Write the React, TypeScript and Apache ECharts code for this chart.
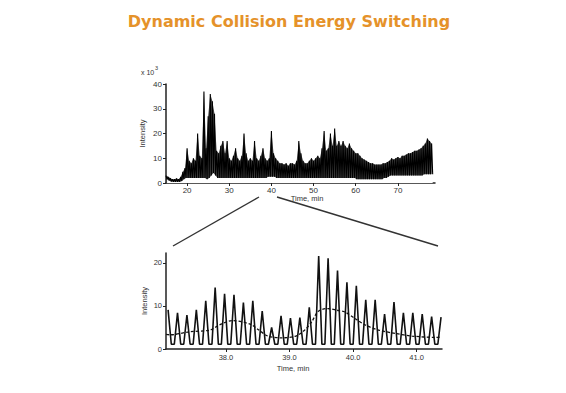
import React, { useEffect, useRef } from 'react';
import * as echarts from 'echarts';

// ---------- Overview chromatogram (x 10^3 counts) ----------
const overviewStart = 15;
const overviewStep = 0.5;
const overviewPeaks = [
  3, 2.5, 2, 1.5, 1.5, 1.8, 1.5, 2.5, 4.5, 6,
  14, 9, 8, 10, 9, 20, 11, 10, 37, 14,
  27, 36, 33, 28, 13, 12, 15, 17, 12, 17,
  10, 9, 11, 14, 10, 9, 11, 20, 12, 9,
  10, 9, 17, 10, 9, 11, 14, 10, 9, 10,
  21, 12, 10, 9, 8, 8, 7.5, 8, 7, 8,
  8, 7.5, 9, 17, 12, 9, 8, 8, 9, 10,
  9, 10, 11, 10, 14, 21, 13, 14, 20, 15,
  22, 15, 17, 15, 17, 15, 14, 16, 14, 13,
  12, 12, 11, 10, 9.5, 9, 8.5, 8, 8, 7.5,
  7.5, 7.5, 7.5, 8, 8, 8.5, 9, 10, 9.5, 10,
  10.5, 10, 11, 11, 11.5, 12, 12, 12.5, 13, 13,
  13.5, 14, 15, 16, 18, 17, 16
];
const overviewTroughs = [
  1.5, 1, 0.6, 0.5, 0.5, 0.5, 0.5, 0.8, 1.5, 2,
  2, 2, 2, 2, 2, 2, 2, 2, 2, 1.5,
  2, 3, 4, 3, 2, 2, 2, 2, 2, 2,
  2, 2, 2, 2, 2, 2, 2, 2, 2, 2,
  2, 2, 2, 2, 2, 2, 2, 2, 2.5, 2.5,
  2.5, 2.5, 2, 2, 2, 2, 2, 2, 2, 2,
  2, 2, 2, 2, 2, 2, 2, 2, 2, 2,
  2, 2, 2, 2, 2, 2, 2, 2, 2, 2,
  2, 2, 2, 2, 2, 2, 2, 2, 2, 2,
  1.5, 1.5, 1.5, 1.5, 1.5, 1.5, 1.5, 1.5, 1.5, 1.5,
  1.5, 1.5, 1.5, 2, 2, 2.5, 3, 3, 3, 3,
  3, 3, 3, 3, 3, 3, 3, 3, 3, 3,
  3, 3, 3.5, 3.5, 3.5, 3.5, 3.5
];
const overviewXTicks = [20, 30, 40, 50, 60, 70];
const overviewYTicks = [0, 10, 20, 30, 40];

// ---------- Zoomed region 37-41.4 min ----------
const zoomStart = 37.09;
const zoomPeriod = 0.1481;
const zoomPeaks = [
  9.1, 8.4, 7.9, 9.1, 11.2, 14.3, 12.8, 12.6, 10.8, 11.2,
  8.8, 5.0, 7.7, 7.2, 7.3, 9.7, 21.6, 21.1, 18.2, 15.5,
  14.7, 11.4, 11.4, 8.1, 10.9, 8.4, 8.4, 8.1, 7.5, 7.4
];
const zoomTroughs = [
  1.1, 1.1, 1.1, 1.1, 1.1, 1.1, 1.1, 1.1, 1.1, 1.1,
  1.1, 1.1, 1.1, 1.1, 1.1, 1.1, 1.1, 1.1, 1.1, 1.1,
  1.1, 1.1, 1.1, 1.1, 1.1, 1.1, 1.1, 1.1, 1.1, 1.1
];
const trendTimes = [
  37.06, 37.12, 37.43, 37.75, 37.9, 38.1, 38.38, 38.5, 38.66, 38.88,
  39.1, 39.24, 39.35, 39.45, 39.6, 39.75, 39.87, 40.03, 40.19, 40.4,
  40.67, 40.93, 41.3, 41.38
];
const trendValues = [
  3.4, 3.3, 4.0, 4.4, 5.6, 6.6, 5.8, 4.6, 3.0, 2.6,
  3.0, 4.4, 6.3, 8.7, 9.4, 9.0, 8.6, 7.1, 5.6, 4.4,
  3.6, 3.0, 2.7, 2.8
];
const zoomXTicks = [38, 39, 40, 41];
const zoomYTicks = [0, 10, 20];

const AXIS = '#222';
const LABEL = '#333';
const FONT = 'Liberation Sans, Arial, sans-serif';

function buildOverview(): number[][] {
  const out: number[][] = [];
  overviewPeaks.forEach((p, i) => {
    const t = overviewStart + i * overviewStep;
    out.push([t, p]);
    out.push([t + overviewStep / 2, overviewTroughs[i]]);
  });
  return out;
}

function buildEnvelope(): number[][] {
  return overviewPeaks.map((p, i) => [overviewStart + i * overviewStep, p]);
}

function buildFloor(): number[][] {
  return overviewTroughs.map((v, i) => [overviewStart + i * overviewStep + overviewStep / 2, v]);
}

function buildZoom(): number[][] {
  const out: number[][] = [];
  zoomPeaks.forEach((p, i) => {
    const t = zoomStart + i * zoomPeriod;
    out.push([t, p]);
    if (i < zoomPeaks.length - 1) {
      out.push([t + zoomPeriod * 0.34, zoomTroughs[i]]);
      out.push([t + zoomPeriod * 0.66, zoomTroughs[i]]);
    }
  });
  return out;
}

export default function App() {
  const ref = useRef<HTMLDivElement>(null);
  useEffect(() => {
    if (!ref.current) return;
    const chart = echarts.init(ref.current, undefined, { renderer: 'svg' });
    const axisCommon = {
      axisLine: { show: true, lineStyle: { color: AXIS, width: 1.5 } },
      splitLine: { show: false },
    };
    chart.setOption({
      animation: false,
      backgroundColor: '#fff',
      grid: [
        { left: 166, top: 84, width: 269, height: 99 },
        { left: 166, top: 253, width: 276, height: 96 },
      ],
      xAxis: [
        {
          gridIndex: 0, type: 'value', min: 15, max: 78.8, ...axisCommon,
          axisTick: { show: true, length: 3, customValues: overviewXTicks, lineStyle: { color: AXIS } },
          axisLabel: { customValues: overviewXTicks, fontSize: 8, color: LABEL, margin: 3, fontFamily: FONT },
        },
        {
          gridIndex: 1, type: 'value', min: 37.057, max: 41.4, ...axisCommon,
          axisTick: { show: true, length: 3, customValues: zoomXTicks, lineStyle: { color: AXIS } },
          axisLabel: {
            customValues: zoomXTicks, fontSize: 7.5, color: LABEL, margin: 4, fontFamily: FONT,
            formatter: (v: number) => v.toFixed(1),
          },
        },
      ],
      yAxis: [
        {
          gridIndex: 0, type: 'value', min: 0, max: 40, ...axisCommon,
          axisTick: { show: true, length: 3, customValues: overviewYTicks, lineStyle: { color: AXIS } },
          axisLabel: { customValues: overviewYTicks, fontSize: 8, color: LABEL, margin: 4, fontFamily: FONT },
          name: 'Intensity', nameLocation: 'middle', nameGap: 20, nameRotate: 90,
          nameTextStyle: { fontSize: 7.5, color: LABEL, fontFamily: FONT },
        },
        {
          gridIndex: 1, type: 'value', min: 0, max: 22.3, ...axisCommon,
          axisTick: { show: true, length: 3, customValues: zoomYTicks, lineStyle: { color: AXIS } },
          axisLabel: { customValues: zoomYTicks, fontSize: 7.5, color: LABEL, margin: 4, fontFamily: FONT },
          name: 'Intensity', nameLocation: 'middle', nameGap: 18, nameRotate: 90,
          nameTextStyle: { fontSize: 7.5, color: LABEL, fontFamily: FONT },
        },
      ],
      series: [
        {
          type: 'line', xAxisIndex: 0, yAxisIndex: 0, data: buildEnvelope(),
          showSymbol: false, lineStyle: { width: 0 },
          areaStyle: { color: '#444', opacity: 1 },
          z: 1,
        },
        {
          type: 'line', xAxisIndex: 0, yAxisIndex: 0, data: buildFloor(),
          showSymbol: false, lineStyle: { width: 0 },
          areaStyle: { color: '#fff', opacity: 1 },
          z: 2,
        },
        {
          type: 'line', xAxisIndex: 0, yAxisIndex: 0, data: buildOverview(),
          showSymbol: false, lineStyle: { color: '#000', width: 1.1 },
          z: 3,
        },
        {
          type: 'line', xAxisIndex: 1, yAxisIndex: 1, data: buildZoom(),
          showSymbol: false, lineStyle: { color: '#111', width: 1.6 },
        },
        {
          type: 'line', xAxisIndex: 1, yAxisIndex: 1,
          data: trendTimes.map((t, i) => [t, trendValues[i]]),
          showSymbol: false, smooth: 0.3,
          lineStyle: { color: '#111', width: 1.3, type: [3, 2] },
        },
      ],
      graphic: [
        {
          type: 'text', x: 289, y: 21,
          style: {
            text: 'Dynamic Collision Energy Switching', fill: '#E5922A',
            fontSize: 16, fontWeight: 'bold', fontFamily: 'DejaVu Sans',
            align: 'center', verticalAlign: 'middle',
          },
        },
        {
          type: 'text', x: 141, y: 72,
          style: { text: 'x 10', fill: LABEL, fontSize: 7, fontFamily: FONT, align: 'left', verticalAlign: 'middle' },
        },
        {
          type: 'text', x: 155, y: 68,
          style: { text: '3', fill: LABEL, fontSize: 5.5, fontFamily: FONT, align: 'left', verticalAlign: 'middle' },
        },
        {
          type: 'text', x: 307, y: 198,
          style: { text: 'Time, min', fill: LABEL, fontSize: 7.5, fontFamily: FONT, align: 'center', verticalAlign: 'middle' },
        },
        {
          type: 'text', x: 293, y: 368,
          style: { text: 'Time, min', fill: LABEL, fontSize: 7.5, fontFamily: FONT, align: 'center', verticalAlign: 'middle' },
        },
        {
          type: 'line', shape: { x1: 259, y1: 197, x2: 173, y2: 246 },
          style: { stroke: '#333', lineWidth: 1.4 },
        },
        {
          type: 'line', shape: { x1: 277, y1: 197, x2: 438, y2: 246 },
          style: { stroke: '#333', lineWidth: 1.4 },
        },
      ],
    });
    return () => chart.dispose();
  }, []);
  return (
    <div
      ref={ref}
      style={{ position: 'absolute', left: 0, top: 0, width: 566, height: 393, background: '#fff' }}
    />
  );
}
